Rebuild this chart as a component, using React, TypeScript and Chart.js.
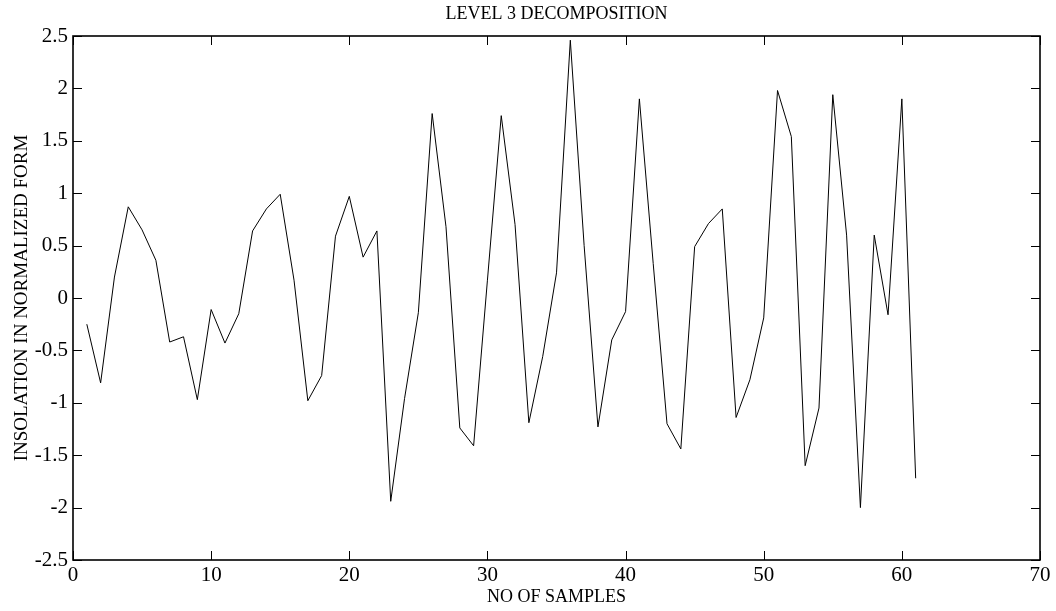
import React, { useEffect, useRef } from "react";
import { Chart, registerables } from "chart.js";

Chart.register(...registerables);

const sampleNumbers: number[] = [
  1, 2, 3, 4, 5, 6, 7, 8, 9, 10, 11, 12, 13, 14, 15, 16, 17, 18, 19, 20,
  21, 22, 23, 24, 25, 26, 27, 28, 29, 30, 31, 32, 33, 34, 35, 36, 37, 38, 39, 40,
  41, 42, 43, 44, 45, 46, 47, 48, 49, 50, 51, 52, 53, 54, 55, 56, 57, 58, 59, 60, 61,
];

const insolation: number[] = [
  -0.25, -0.81, 0.2, 0.87, 0.65, 0.36, -0.42, -0.37, -0.97, -0.11,
  -0.43, -0.15, 0.64, 0.85, 0.99, 0.17, -0.98, -0.74, 0.59, 0.97,
  0.39, 0.64, -1.94, -0.96, -0.14, 1.76, 0.68, -1.24, -1.41, 0.17,
  1.74, 0.7, -1.19, -0.56, 0.24, 2.46, 0.5, -1.23, -0.4, -0.13,
  1.9, 0.33, -1.2, -1.44, 0.49, 0.71, 0.85, -1.14, -0.78, -0.19,
  1.98, 1.54, -1.6, -1.05, 1.94, 0.6, -2.0, 0.6, -0.16, 1.9,
  -1.72,
];

const xTickValues: number[] = [0, 10, 20, 30, 40, 50, 60, 70];
const yTickValues: number[] = [-2.5, -2, -1.5, -1, -0.5, 0, 0.5, 1, 1.5, 2, 2.5];

const titleText = "LEVEL 3 DECOMPOSITION";
const xTitleText = "NO OF SAMPLES";
const yTitleText = "INSOLATION IN NORMALIZED FORM";

const FONT = "'Liberation Serif', 'Times New Roman', serif";

const boxPlugin = {
  id: "matlabBox",
  afterDatasetsDraw(chart: any) {
    const { ctx, chartArea, scales } = chart;
    const { left, right, top, bottom } = chartArea;
    const xs = scales.x;
    const ys = scales.y;
    const tl = 9;
    ctx.save();
    ctx.strokeStyle = "#000";
    ctx.lineWidth = 1;
    ctx.beginPath();
    for (const v of xTickValues) {
      const px = Math.round(xs.getPixelForValue(v)) + 0.5;
      ctx.moveTo(px, bottom);
      ctx.lineTo(px, bottom - tl);
      ctx.moveTo(px, top);
      ctx.lineTo(px, top + tl);
    }
    for (const v of yTickValues) {
      const py = Math.round(ys.getPixelForValue(v)) + 0.5;
      ctx.moveTo(left, py);
      ctx.lineTo(left + tl, py);
      ctx.moveTo(right, py);
      ctx.lineTo(right - tl, py);
    }
    ctx.stroke();
    ctx.lineWidth = 1.6;
    ctx.strokeRect(left, top, right - left, bottom - top);
    ctx.restore();
  },
};

export default function App() {
  const canvasRef = useRef<HTMLCanvasElement | null>(null);

  useEffect(() => {
    if (!canvasRef.current) return;
    const chart = new Chart(canvasRef.current, {
      type: "line",
      data: {
        datasets: [
          {
            label: "Level 3",
            data: sampleNumbers.map((x, i) => ({ x, y: insolation[i] })),
            borderColor: "#000",
            borderWidth: 1,
            pointRadius: 0,
            tension: 0,
            fill: false,
            xAxisID: "x",
            yAxisID: "y",
          },
        ],
      },
      options: {
        animation: false,
        responsive: false,
        devicePixelRatio: 1,
        layout: { padding: { left: 0, right: 16, top: 0, bottom: 0 } },
        plugins: {
          legend: { display: false },
          tooltip: { enabled: false },
          title: { display: false },
        },
        scales: {
          x: {
            type: "linear",
            position: "bottom",
            min: 0,
            max: 70,
            afterBuildTicks: (scale: any) => {
              scale.ticks = xTickValues.map((v) => ({ value: v }));
            },
            afterFit: (scale: any) => {
              scale.height = 51;
            },
            grid: { display: false, drawTicks: false },
            border: { display: false },
            ticks: {
              color: "#000",
              font: { family: FONT, size: 21 },
              padding: 3,
              maxRotation: 0,
              autoSkip: false,
              callback: (v: any) => String(v),
            },
            title: {
              display: true,
              text: xTitleText,
              color: "#000",
              font: { family: FONT, size: 18, lineHeight: 1.2 },
              padding: { top: 0, bottom: 3 },
            },
          },
          xTop: {
            type: "linear",
            position: "top",
            min: 0,
            max: 70,
            afterFit: (scale: any) => {
              scale.height = 36;
            },
            grid: { display: false, drawTicks: false },
            border: { display: false },
            ticks: { display: false },
            title: {
              display: true,
              text: titleText,
              color: "#000",
              font: { family: FONT, size: 18, lineHeight: 1.2 },
              padding: { top: 3.7, bottom: 0 },
            },
          },
          y: {
            type: "linear",
            min: -2.5,
            max: 2.5,
            afterBuildTicks: (scale: any) => {
              scale.ticks = yTickValues.map((v) => ({ value: v }));
            },
            afterFit: (scale: any) => {
              scale.width = 73;
            },
            grid: { display: false, drawTicks: false },
            border: { display: false },
            ticks: {
              color: "#000",
              font: { family: FONT, size: 21 },
              padding: 5,
              autoSkip: false,
              callback: (v: any) => String(v),
            },
            title: {
              display: true,
              text: yTitleText,
              color: "#000",
              font: { family: FONT, size: 19, lineHeight: 1.2 },
              padding: { top: 10.5, bottom: 0 },
            },
          },
        },
      },
      plugins: [boxPlugin],
    });
    return () => chart.destroy();
  }, []);

  return (
    <div style={{ position: "absolute", left: 0, top: 0, width: 1056, height: 611, background: "#fff" }}>
      <canvas ref={canvasRef} width={1056} height={611} style={{ display: "block" }} />
    </div>
  );
}
